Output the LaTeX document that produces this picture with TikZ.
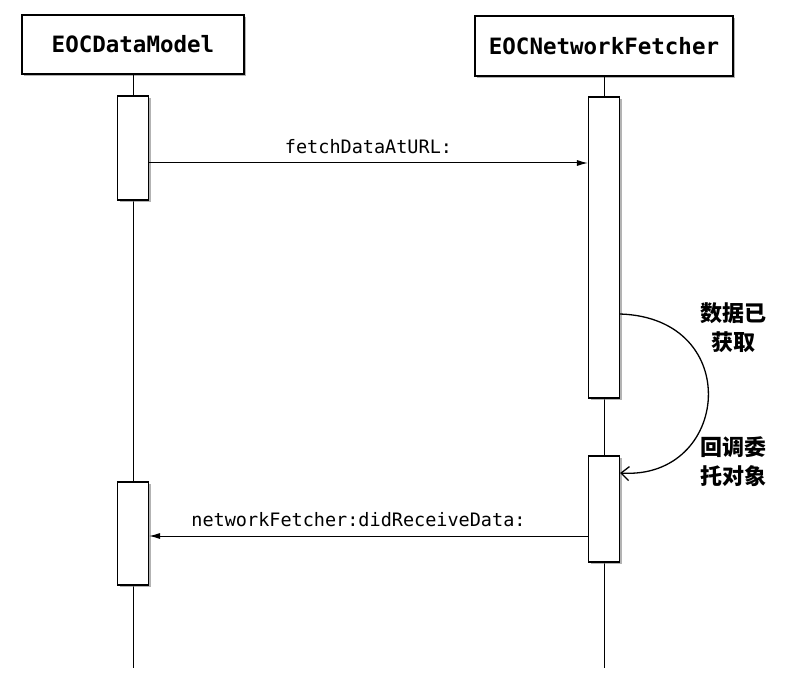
\documentclass[tikz,border=0pt]{standalone}
\usepackage{fontspec}
\setmonofont{DejaVu Sans Mono}
\newfontfamily\cjk{Noto Sans CJK SC}
\usetikzlibrary{arrows,arrows.meta,shadows,positioning}
\tikzset{
    every node/.append style={font=\ttfamily},
    obj/.style={draw, line width=1.2pt, fill=white, inner sep=0pt,
        font=\ttfamily\bfseries\fontsize{22.5}{26}\selectfont,
        drop shadow={shadow xshift=2pt, shadow yshift=-2pt, opacity=.6}},
    act/.style={draw, line width=1.1pt, fill=white, inner sep=0pt, minimum width=31pt,
        drop shadow={shadow xshift=2pt, shadow yshift=-2pt, opacity=.6}},
    msg/.style={-{Latex[length=11pt,width=6pt]}, line width=1pt},
    life/.style={line width=1pt},
    lbl/.style={font=\ttfamily\fontsize{18.5}{22}\selectfont},
    note/.style={font=\cjk\bfseries\fontsize{22}{29}\selectfont, align=center}}

\begin{document}
\begin{tikzpicture}[x=1pt,y=-1pt]
    \useasboundingbox (0,0) rectangle (800,679);

    % objects
    \node[obj, minimum width=222pt, minimum height=59pt] (dm) at (133,44.5) {EOCDataModel};
    \node[obj, minimum width=258pt, minimum height=60pt] (nf) at (604,46) {EOCNetworkFetcher};

    % lifelines
    \coordinate (dmEnd) at (133,668);
    \coordinate (nfEnd) at (604,668);
    \draw[life] (dm.south) -- (dmEnd);
    \draw[life] (nf.south) -- (nfEnd);

    % activations
    \node[act, minimum height=104pt] (dmA) at (133,148) {};
    \node[act, minimum height=103pt] (dmB) at (133,533.5) {};
    \node[act, minimum height=301pt] (nfA) at (604,247.5) {};
    \node[act, minimum height=106pt] (nfB) at (604,509) {};

    % messages
    \coordinate (callY) at (0,163);
    \coordinate (backY) at (0,536);
    \draw[msg] (dmA.east |- callY) -- node[lbl, above=5pt] {fetchDataAtURL:} (nfA.west |- callY);
    \draw[msg] (nfB.west |- backY) -- node[lbl, above=5pt, xshift=-10pt] {networkFetcher:didReceiveData:} (dmB.east |- backY);

    % callback
    \coordinate (doneY) at (0,314);
    \coordinate (cbY) at (0,473);
    \draw[-{Straight Barb[length=8pt,width=14pt]}, line width=1.3pt] (nfA.east |- doneY) .. controls (745,318) and (730,480) .. (nfB.east |- cbY);
    \node[note] (done) at (733,328) {数据已\\获取};
    \node[note] (cb) at (733,462) {回调委\\托对象};
\end{tikzpicture}
\end{document}
